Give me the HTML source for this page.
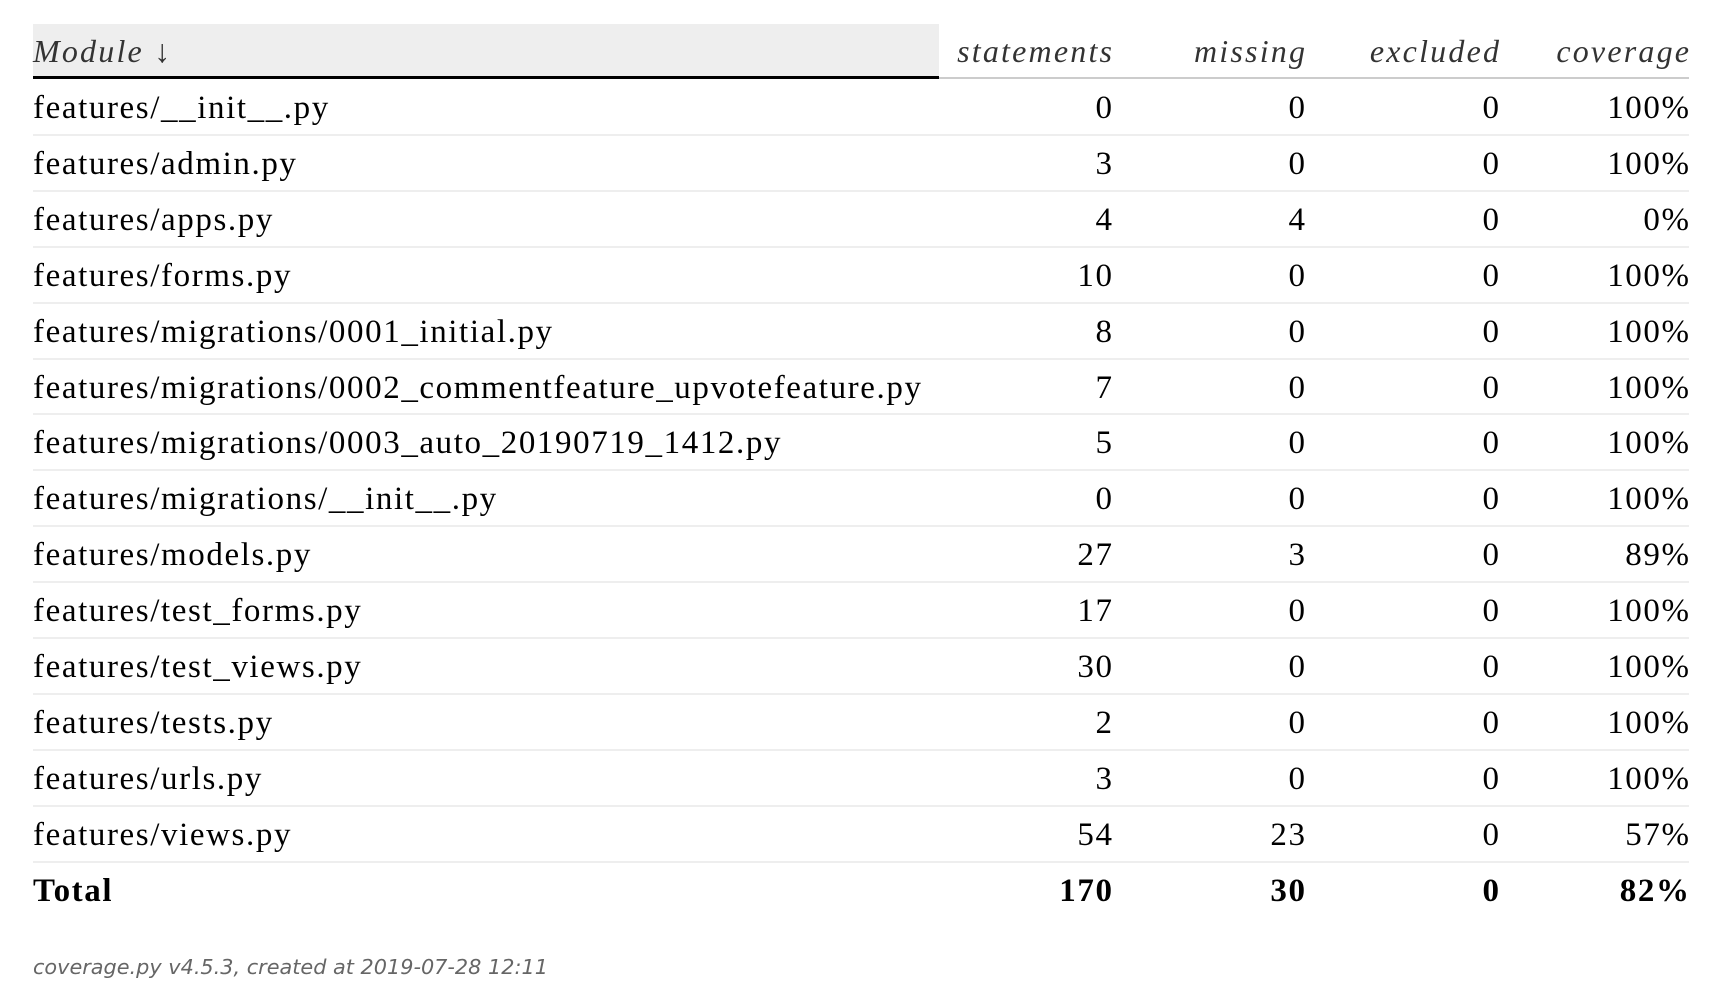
<!DOCTYPE html>
<html><head><meta charset="utf-8">
<style>
html,body{margin:0;padding:0;background:#fff;width:1734px;height:1002px;overflow:hidden;position:relative}
.t{position:absolute;white-space:nowrap;font-family:"Liberation Serif",serif;font-size:33px;color:#000;line-height:1;letter-spacing:1.6px}
.r{text-align:right}
.h{font-style:italic;color:#333;font-size:32px;letter-spacing:2.2px}
.b{font-weight:bold}
.line{position:absolute;height:2px;background:#eee}
#foot{position:absolute;left:33px;top:955px;font-family:"DejaVu Sans",sans-serif;font-style:italic;font-size:20.8px;color:#666;white-space:nowrap}
</style></head><body>
<div id="tbl"></div>
<div id="foot">coverage.py v4.5.3, created at 2019-07-28 12:11</div>
<script>
const modules=["features/__init__.py","features/admin.py","features/apps.py","features/forms.py","features/migrations/0001_initial.py","features/migrations/0002_commentfeature_upvotefeature.py","features/migrations/0003_auto_20190719_1412.py","features/migrations/__init__.py","features/models.py","features/test_forms.py","features/test_views.py","features/tests.py","features/urls.py","features/views.py"];
const statements=[0,3,4,10,8,7,5,0,27,17,30,2,3,54];
const missing=[0,0,4,0,0,0,0,0,3,0,0,0,0,23];
const excluded=[0,0,0,0,0,0,0,0,0,0,0,0,0,0];
const coverage=["100%","100%","0%","100%","100%","100%","100%","100%","89%","100%","100%","100%","100%","57%"];
const totals=["170","30","0","82%"];
const headers=["statements","missing","excluded","coverage"];

const root=document.body;
const L=33, RIGHT=1689, R=[1112,1305,1499,RIGHT], ROW=55.9, Y0=79;
function txt(s,x,y,cls,right){
  const d=document.createElement('div');
  d.className='t '+cls;
  d.textContent=s;
  d.style.top=(y-26)+'px';
  if(right){d.style.right=(1734-x)+'px';d.classList.add('r');d.style.marginRight='-'+(cls.indexOf('h')>=0?2.2:1.6)+'px';}else d.style.left=x+'px';
  root.appendChild(d);return d;
}
const hb=document.createElement('div');
hb.style.cssText='position:absolute;left:33px;top:24px;width:906px;height:55px;background:#eee';


root.appendChild(hb);
const hl=document.createElement('div');
hl.style.cssText='position:absolute;left:939px;top:77px;width:'+(RIGHT-939)+'px;height:2px;background:#ccc';


root.appendChild(hl);
const hk=document.createElement('div');
hk.style.cssText='position:absolute;left:33px;top:76px;width:906px;height:3px;background:#000';


root.appendChild(hk);
let e=txt('Module \u2193',L,61,'h',false);


headers.forEach((h,i)=>{
  const el=txt(h,R[i],61,'h',true);
  
  
});
modules.forEach((m,i)=>{
  const base=Y0+ROW*i+39;
  const a=txt(m,L,base,'',false);
  
  
  [statements[i],missing[i],excluded[i],coverage[i]].forEach((v,j)=>{
    const c=txt(String(v),R[j],base,'',true);
    
    
  });
  const ln=document.createElement('div');
  ln.className='line';
  ln.style.left=L+'px';ln.style.width=(RIGHT-L)+'px';
  ln.style.top=(Y0+ROW*(i+1)-1)+'px';
  
  
  root.appendChild(ln);
});
const tb=Y0+ROW*modules.length+39;
const tt=txt('Total',L,tb,'b',false);


totals.forEach((v,j)=>{
  const c=txt(v,R[j],tb,'b',true);
  
  
});
</script>
</body></html>
